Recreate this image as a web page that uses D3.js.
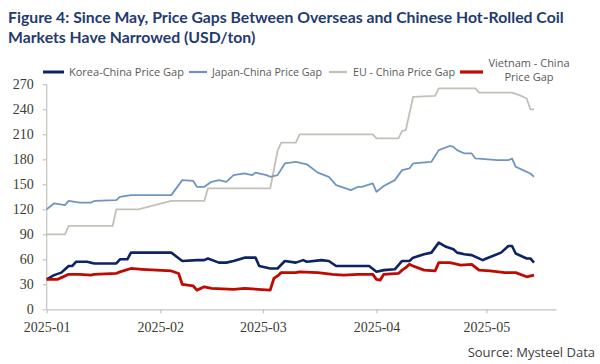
<!DOCTYPE html>
<html>
<head>
<meta charset="utf-8">
<script src="https://cdn.jsdelivr.net/npm/d3@7"></script>
<style>
	html, body { margin: 0; padding: 0; background: #fff; }
	svg { display: block; }
</style>
</head>
<body>
<svg id="chart" width="600" height="364"></svg>
<script>
const titleLines = [
	'Figure 4: Since May, Price Gaps Between Overseas and Chinese Hot-Rolled Coil',
	'Markets Have Narrowed (USD/ton)'
];
const seriesNames = ['Korea-China Price Gap', 'Japan-China Price Gap', 'EU - China Price Gap', 'Vietnam - China Price Gap'];
const yTicks = [0, 30, 60, 90, 120, 150, 180, 210, 240, 270];
const xTicks = ['2025-01', '2025-02', '2025-03', '2025-04', '2025-05'];
const sourceNote = 'Source: Mysteel Data';

// [month-day, USD/ton]
const koreaGap = [
	['01-01', 36], ['01-03', 41], ['01-05', 44], ['01-06', 48], ['01-07', 52], ['01-08', 52],
	['01-09', 57], ['01-12', 57], ['01-14', 55], ['01-20', 55], ['01-21', 60], ['01-23', 60],
	['01-24', 68], ['02-04', 68], ['02-07', 58], ['02-11', 59], ['02-13', 59], ['02-14', 61],
	['02-17', 56], ['02-19', 56], ['02-21', 58], ['02-24', 62], ['02-27', 62], ['02-28', 52],
	['03-03', 49], ['03-05', 49], ['03-07', 58], ['03-10', 56], ['03-12', 59], ['03-13', 57],
	['03-17', 59], ['03-19', 58], ['03-21', 52], ['03-30', 52], ['04-01', 45], ['04-03', 47],
	['04-06', 48], ['04-08', 58], ['04-10', 58], ['04-11', 62], ['04-14', 66], ['04-16', 68],
	['04-18', 80], ['04-20', 75], ['04-22', 72], ['04-23', 68], ['04-25', 66], ['04-27', 65],
	['04-30', 59], ['05-01', 61], ['05-05', 68], ['05-07', 76], ['05-08', 76], ['05-09', 67],
	['05-12', 61], ['05-13', 61], ['05-14', 56]
];
const japanGap = [
	['01-01', 120], ['01-03', 127], ['01-06', 125], ['01-07', 130], ['01-10', 128], ['01-13', 128],
	['01-14', 130], ['01-20', 131], ['01-21', 135], ['01-24', 137], ['02-04', 137], ['02-07', 155],
	['02-10', 154], ['02-11', 147], ['02-13', 147], ['02-15', 153], ['02-17', 155], ['02-19', 153],
	['02-21', 161], ['02-24', 163], ['02-26', 161], ['02-27', 164], ['03-02', 161], ['03-03', 159],
	['03-05', 161], ['03-07', 175], ['03-10', 177], ['03-13', 174], ['03-16', 164], ['03-19', 159],
	['03-21', 149], ['03-25', 143], ['03-27', 147], ['03-28', 147], ['03-31', 151], ['04-01', 141],
	['04-03', 148], ['04-06', 155], ['04-08', 167], ['04-10', 169], ['04-11', 175], ['04-16', 177],
	['04-18', 191], ['04-21', 196], ['04-22', 195], ['04-23', 191], ['04-25', 187], ['04-27', 187],
	['04-28', 181], ['05-04', 179], ['05-07', 179], ['05-08', 181], ['05-09', 171], ['05-11', 167],
	['05-13', 163], ['05-14', 159]
];
const euGap = [
	['01-01', 90], ['01-06', 90], ['01-07', 100], ['01-19', 100], ['01-20', 120], ['01-26', 120],
	['02-04', 130], ['02-13', 130], ['02-14', 145], ['03-03', 145], ['03-05', 190], ['03-06', 200],
	['03-10', 200], ['03-11', 210], ['03-31', 210], ['04-01', 205], ['04-07', 205], ['04-08', 214],
	['04-09', 215], ['04-11', 255], ['04-17', 256], ['04-18', 265], ['04-28', 265], ['04-29', 260],
	['05-08', 260], ['05-10', 257], ['05-12', 253], ['05-13', 240], ['05-14', 240]
];
const vietnamGap = [
	['01-01', 36], ['01-04', 36], ['01-05', 38], ['01-07', 42], ['01-10', 42], ['01-13', 41],
	['01-14', 42], ['01-20', 43], ['01-21', 45], ['01-24', 49], ['01-27', 48], ['02-04', 46],
	['02-06', 43], ['02-07', 30], ['02-10', 28], ['02-11', 23], ['02-13', 27], ['02-15', 25],
	['02-21', 24], ['02-24', 25], ['03-03', 23], ['03-04', 37], ['03-05', 40], ['03-06', 44],
	['03-10', 44], ['03-11', 45], ['03-16', 44], ['03-20', 42], ['03-23', 41], ['03-27', 42],
	['03-31', 42], ['04-01', 36], ['04-02', 35], ['04-03', 42], ['04-07', 43], ['04-08', 47],
	['04-09', 50], ['04-10', 54], ['04-11', 52], ['04-14', 47], ['04-17', 46], ['04-18', 56],
	['04-21', 56], ['04-22', 55], ['04-24', 53], ['04-27', 54], ['04-29', 47], ['05-02', 46],
	['05-06', 44], ['05-09', 44], ['05-12', 39], ['05-14', 41]
];

const parseDay = d3.timeParse('%Y-%m-%d');
const parseMonth = d3.timeParse('%Y-%m');
const toPoints = arr => arr.map(([md, v]) => ({ date: parseDay('2025-' + md), value: v }));

const series = [
	{ name: seriesNames[0], data: toPoints(koreaGap), color: '#0d2366', width: 2.6 },
	{ name: seriesNames[1], data: toPoints(japanGap), color: '#6f95c0', width: 1.8 },
	{ name: seriesNames[2], data: toPoints(euGap), color: '#c2c1b8', width: 1.8 },
	{ name: seriesNames[3], data: toPoints(vietnamGap), color: '#c00a00', width: 2.8 }
];

const svg = d3.select('#chart');
const plot = { left: 46.7, right: 556, top: 84.3, bottom: 309.3 };

const x = d3.scaleTime()
	.domain([parseDay('2025-01-01'), parseDay('2025-05-20')])
	.range([plot.left, plot.right]);
const y = d3.scaleLinear()
	.domain([0, 270])
	.range([plot.bottom, plot.top]);

// squeeze a text to the width it has in the picture
const fitWidth = (sel, want) => {
	sel.each(function() {
		const got = this.getComputedTextLength();
		if (Math.abs(got - want) > 1.5) {
			d3.select(this).attr('textLength', want).attr('lengthAdjust', 'spacingAndGlyphs');
		}
	});
};

// title: size the font so the first line spans what it does in the picture
const titles = svg.append('g')
	.selectAll('text')
	.data(titleLines)
	.enter()
	.append('text')
	.attr('x', 8)
	.attr('y', (d, i) => 23 + i * 20)
	.attr('font-family', 'Lato, "Open Sans", sans-serif')
	.attr('font-weight', 700)
	.attr('font-size', 17)
	.attr('fill', '#1f3b70')
	.text(d => d);
const firstWidth = titles.node().getComputedTextLength();
const titleSize = Math.min(17.5, 17 * 556 / firstWidth);
titles.attr('font-size', titleSize);

// axes
const axisColor = '#c4c4bc';
const labelFont = '"Liberation Serif", "DejaVu Serif", serif';

const yAxis = svg.append('g')
	.attr('transform', `translate(${plot.left},0)`)
	.call(d3.axisLeft(y).tickValues(yTicks).tickSize(4).tickSizeOuter(0).tickPadding(9));
const xAxis = svg.append('g')
	.attr('transform', `translate(0,${plot.bottom})`)
	.call(d3.axisBottom(x).tickValues(xTicks.map(parseMonth)).tickFormat(d3.timeFormat('%Y-%m')).tickSize(4).tickSizeOuter(0).tickPadding(9));

[yAxis, xAxis].forEach(a => {
	a.select('.domain').attr('stroke', axisColor).attr('stroke-width', 1.2);
	a.selectAll('.tick line').attr('stroke', axisColor).attr('stroke-width', 1.2);
	a.selectAll('.tick text')
		.attr('font-family', labelFont)
		.attr('font-size', 14)
		.attr('fill', '#3b3b33');
});
yAxis.select('.domain').attr('d', `M0,${plot.bottom}V${plot.top}`);

// lines
const line = d3.line()
	.x(d => x(d.date))
	.y(d => y(d.value));

svg.append('g')
	.selectAll('path')
	.data([series[2], series[1], series[0], series[3]])
	.enter()
	.append('path')
	.attr('d', d => line(d.data))
	.attr('fill', 'none')
	.attr('stroke', d => d.color)
	.attr('stroke-width', d => d.width)
	.attr('stroke-linejoin', 'round');

// legend
const legendFont = '"Open Sans", sans-serif';
const legendItems = [
	{ s: series[0], x0: 43, x1: 64, tx: 69, w: 116 },
	{ s: series[1], x0: 189, x1: 207, tx: 212, w: 110 },
	{ s: series[2], x0: 329, x1: 347, tx: 353, w: 102 },
	{ s: series[3], x0: 460, x1: 483, tx: null }
];
const legend = svg.append('g');
legendItems.forEach(item => {
	legend.append('line')
		.attr('x1', item.x0)
		.attr('x2', item.x1)
		.attr('y1', 72)
		.attr('y2', 72)
		.attr('stroke', item.s.color)
		.attr('stroke-width', item.s.width + 0.4);
	if (item.tx !== null) {
		legend.append('text')
			.attr('x', item.tx)
			.attr('y', 76)
			.attr('font-family', legendFont)
			.attr('font-size', 11)
			.attr('fill', '#595959')
			.text(item.s.name)
			.call(fitWidth, item.w);
	}
});
legend.append('text')
	.attr('text-anchor', 'middle')
	.attr('font-family', legendFont)
	.attr('font-size', 11)
	.attr('fill', '#595959')
	.selectAll('tspan')
	.data(['Vietnam - China', 'Price Gap'])
	.enter()
	.append('tspan')
	.attr('x', 529)
	.attr('y', (d, i) => 66.5 + i * 14)
	.text(d => d);

// source
svg.append('text')
	.attr('x', 595)
	.attr('y', 357)
	.attr('text-anchor', 'end')
	.attr('font-family', legendFont)
	.attr('font-size', 13)
	.attr('fill', '#404040')
	.text(sourceNote);
</script>
</body>
</html>
